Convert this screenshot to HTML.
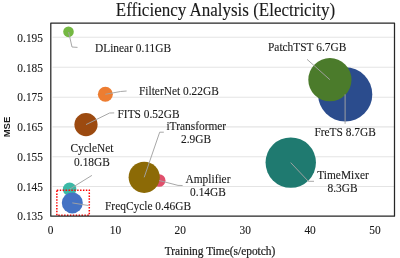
<!DOCTYPE html>
<html><head><meta charset="utf-8">
<style>
html,body{margin:0;padding:0;background:#fff;}
body{width:400px;height:258px;overflow:hidden;}
svg{display:block;will-change:transform;}
text{font-family:"Liberation Serif",serif;fill:#1a1a1a;stroke:#1a1a1a;stroke-width:0.1;}
</style></head><body>
<svg width="400" height="258" viewBox="0 0 400 258">
<rect x="0" y="0" width="400" height="258" fill="#fff"/>

<g stroke="#e4e4e4" stroke-width="1.1">
<line x1="52.5" y1="37.3" x2="394" y2="37.3"/>
<line x1="52.5" y1="67.3" x2="394" y2="67.3"/>
<line x1="52.5" y1="97.2" x2="394" y2="97.2"/>
<line x1="52.5" y1="126.9" x2="394" y2="126.9"/>
<line x1="52.5" y1="156.7" x2="394" y2="156.7"/>
<line x1="52.5" y1="186.5" x2="394" y2="186.5"/>
</g>
<text transform="translate(225.5,15.5) scale(1,1.06)" font-size="17" text-anchor="middle">Efficiency Analysis (Electricity)</text>
<text transform="translate(43,41.9) scale(1,1.07)" font-size="11.4" text-anchor="end">0.195</text>
<text transform="translate(43,71.65) scale(1,1.07)" font-size="11.4" text-anchor="end">0.185</text>
<text transform="translate(43,101.4) scale(1,1.07)" font-size="11.4" text-anchor="end">0.175</text>
<text transform="translate(43,131.15) scale(1,1.07)" font-size="11.4" text-anchor="end">0.165</text>
<text transform="translate(43,160.9) scale(1,1.07)" font-size="11.4" text-anchor="end">0.155</text>
<text transform="translate(43,190.65) scale(1,1.07)" font-size="11.4" text-anchor="end">0.145</text>
<text transform="translate(43,220.4) scale(1,1.07)" font-size="11.4" text-anchor="end">0.135</text>
<text transform="translate(50.5,234) scale(1,1.07)" font-size="11.4" text-anchor="middle">0</text>
<text transform="translate(115.4,234) scale(1,1.07)" font-size="11.4" text-anchor="middle">10</text>
<text transform="translate(180.3,234) scale(1,1.07)" font-size="11.4" text-anchor="middle">20</text>
<text transform="translate(245.2,234) scale(1,1.07)" font-size="11.4" text-anchor="middle">30</text>
<text transform="translate(310.1,234) scale(1,1.07)" font-size="11.4" text-anchor="middle">40</text>
<text transform="translate(375.0,234) scale(1,1.07)" font-size="11.4" text-anchor="middle">50</text>
<text transform="translate(220,255) scale(1,1.07)" font-size="11.4" text-anchor="middle" style="stroke-width:0.2">Training Time(s/epotch)</text>
<text transform="translate(9.9,127) rotate(-90)" font-size="9.5" font-weight="bold" text-anchor="middle" style="font-family:'Liberation Sans',sans-serif;stroke-width:0">MSE</text>

<circle cx="68.5" cy="31.85" r="5.3" fill="#74b842"/>
<circle cx="105.35" cy="94.3" r="7.5" fill="#ed7d31"/>
<circle cx="86.0" cy="124.6" r="11.6" fill="#9c4a10"/>
<circle cx="159.2" cy="180.5" r="6.3" fill="#e0506c"/>
<circle cx="144.2" cy="177.3" r="15.6" fill="#8c6a06"/>
<circle cx="345.2" cy="94.4" r="27.1" fill="#2b4c8d"/>
<circle cx="329.9" cy="79.7" r="21.6" fill="#4b7b2b"/>
<circle cx="290.75" cy="162.6" r="25.2" fill="#1f7a70"/>
<circle cx="69.6" cy="189.2" r="6.75" fill="#3cb9a6"/>
<circle cx="72.3" cy="202.9" r="10.5" fill="#4472c4"/>

<g stroke="#a2a2a2" stroke-width="0.95" fill="none">
<polyline points="68.6,32 72,47 77.5,47.4"/>
<polyline points="105.35,94.3 120.5,91.5 126.6,91"/>
<polyline points="86,124.6 109.6,113 114.2,112.9"/>
<polyline points="144.2,177.3 159.7,132.2 163.8,132.2"/>
<polyline points="159.2,180.5 178,185.4 182.6,185.5"/>
<polyline points="329.9,79.7 307,59.3"/>
<polyline points="345.1,94.3 345.1,123.75"/>
<polyline points="290.7,162.6 308.3,181.3 314,181.3"/>
<polyline points="69.6,189.2 91.9,175.4"/>
<polyline points="72.3,202.9 88.3,205.5"/>
</g>
<rect x="56.85" y="190.2" width="32.45" height="25" fill="none" stroke="#ff0000" stroke-width="1.5" stroke-dasharray="1.45,1.45"/>

<text transform="translate(95,52) scale(1,1.07)" font-size="11.4">DLinear 0.11GB</text>
<text transform="translate(139,95) scale(1,1.07)" font-size="11.4">FilterNet 0.22GB</text>
<text transform="translate(117.5,117.5) scale(1,1.07)" font-size="11.4">FITS 0.52GB</text>
<text transform="translate(196.3,129.6) scale(1,1.07)" font-size="11.4" text-anchor="middle">iTransformer</text>
<text transform="translate(196,142.9) scale(1,1.07)" font-size="11.4" text-anchor="middle">2.9GB</text>
<text transform="translate(208,183) scale(1,1.07)" font-size="11.4" text-anchor="middle">Amplifier</text>
<text transform="translate(208,196) scale(1,1.07)" font-size="11.4" text-anchor="middle">0.14GB</text>
<text transform="translate(92,151.6) scale(1,1.07)" font-size="11.4" text-anchor="middle">CycleNet</text>
<text transform="translate(92,165.5) scale(1,1.07)" font-size="11.4" text-anchor="middle">0.18GB</text>
<text transform="translate(105,210) scale(1,1.07)" font-size="11.4">FreqCycle 0.46GB</text>
<text transform="translate(268,50.5) scale(1,1.07)" font-size="11.4">PatchTST 6.7GB</text>
<text transform="translate(314.4,136.1) scale(1,1.07)" font-size="11.4">FreTS 8.7GB</text>
<text transform="translate(343,179) scale(1,1.07)" font-size="11.4" text-anchor="middle">TimeMixer</text>
<text transform="translate(342.5,191.5) scale(1,1.07)" font-size="11.4" text-anchor="middle">8.3GB</text>
<rect x="50.8" y="23" width="343.7" height="193.15" fill="none" stroke="#262626" stroke-width="1.25" stroke-linejoin="round"/>
</svg>
</body></html>
